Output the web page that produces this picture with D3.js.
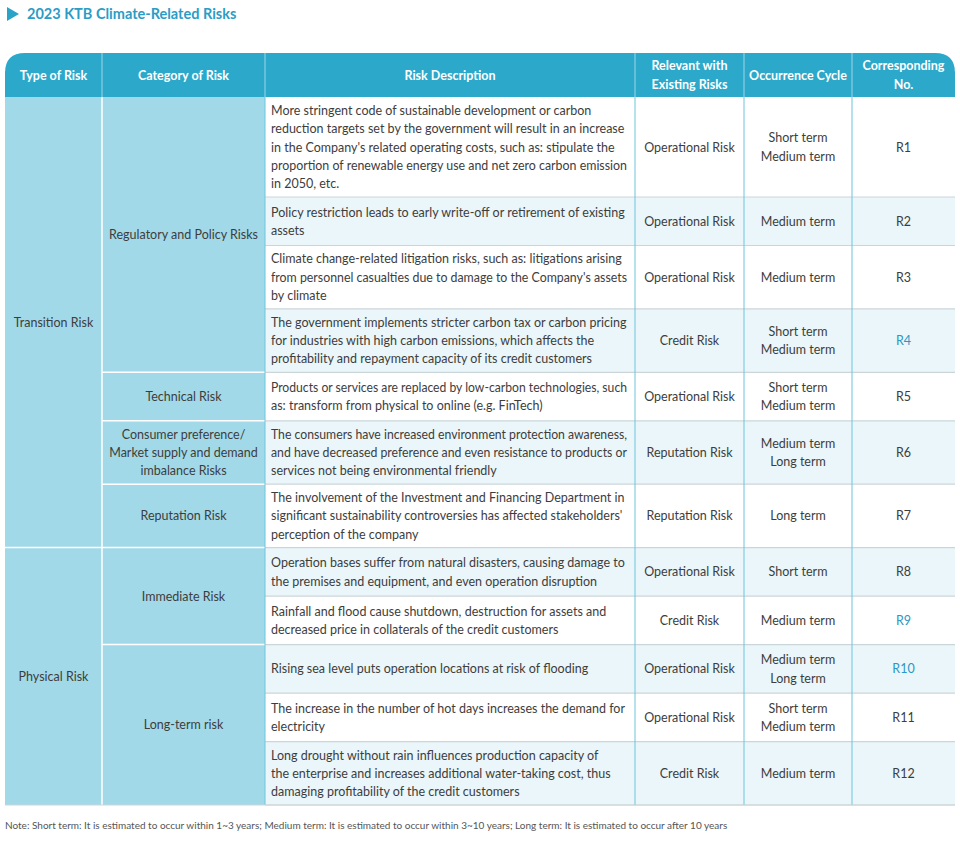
<!DOCTYPE html>
<html>
<head>
<meta charset="utf-8">
<script src="https://cdn.jsdelivr.net/npm/d3@7"></script>
<style>
  body { margin: 0; background: #fff; }
  svg { font-family: Lato, "Noto Sans", sans-serif; }
</style>
</head>
<body>
<svg width="960" height="844"></svg>
<script>
const headers = [["Type of Risk"], ["Category of Risk"], ["Risk Description"],
    ["Relevant with", "Existing Risks"], ["Occurrence Cycle"], ["Corresponding", "No."]]

const riskTypes = [
    {name: "Transition Risk", rows: 7},
    {name: "Physical Risk", rows: 5}
]

const riskCategories = [
    {lines: ["Regulatory and Policy Risks"], rows: 4},
    {lines: ["Technical Risk"], rows: 1},
    {lines: ["Consumer preference/", "Market supply and demand", "imbalance Risks"], rows: 1},
    {lines: ["Reputation Risk"], rows: 1},
    {lines: ["Immediate Risk"], rows: 2},
    {lines: ["Long-term risk"], rows: 3}
]

const descriptions = [
    ["More stringent code of sustainable development or carbon",
     "reduction targets set by the government will result in an increase",
     "in the Company's related operating costs, such as: stipulate the",
     "proportion of renewable energy use and net zero carbon emission",
     "in 2050, etc."],
    ["Policy restriction leads to early write-off or retirement of existing",
     "assets"],
    ["Climate change-related litigation risks, such as: litigations arising",
     "from personnel casualties due to damage to the Company's assets",
     "by climate"],
    ["The government implements stricter carbon tax or carbon pricing",
     "for industries with high carbon emissions, which affects the",
     "profitability and repayment capacity of its credit customers"],
    ["Products or services are replaced by low-carbon technologies, such",
     "as: transform from physical to online (e.g. FinTech)"],
    ["The consumers have increased environment protection awareness,",
     "and have decreased preference and even resistance to products or",
     "services not being environmental friendly"],
    ["The involvement of the Investment and Financing Department in",
     "significant sustainability controversies has affected stakeholders'",
     "perception of the company"],
    ["Operation bases suffer from natural disasters, causing damage to",
     "the premises and equipment, and even operation disruption"],
    ["Rainfall and flood cause shutdown, destruction for assets and",
     "decreased price in collaterals of the credit customers"],
    ["Rising sea level puts operation locations at risk of flooding"],
    ["The increase in the number of hot days increases the demand for",
     "electricity"],
    ["Long drought without rain influences production capacity of",
     "the enterprise and increases additional water-taking cost, thus",
     "damaging profitability of the credit customers"]
]

const existingRisks = ["Operational Risk", "Operational Risk", "Operational Risk", "Credit Risk",
    "Operational Risk", "Reputation Risk", "Reputation Risk", "Operational Risk", "Credit Risk",
    "Operational Risk", "Operational Risk", "Credit Risk"]

const cycles = [["Short term", "Medium term"], ["Medium term"], ["Medium term"], ["Short term", "Medium term"],
    ["Short term", "Medium term"], ["Medium term", "Long term"], ["Long term"], ["Short term"],
    ["Medium term"], ["Medium term", "Long term"], ["Short term", "Medium term"], ["Medium term"]]

const riskNumbers = ["R1", "R2", "R3", "R4", "R5", "R6", "R7", "R8", "R9", "R10", "R11", "R12"]
const linkedNumbers = ["R4", "R9", "R10"]

const title = "2023 KTB Climate-Related Risks"
const note = "Note: Short term: It is estimated to occur within 1~3 years; Medium term: It is estimated to occur within 3~10 years; Long term: It is estimated to occur after 10 years"

// ---- layout ----
const colEdges = [5, 102, 265, 635, 744, 852, 955]
const headerTop = 53, headerBottom = 97
const lineH = 18.3
const textColor = "#3d3d3d"

const svg = d3.select('svg')

// row heights follow the number of text lines in the row
const rowLines = descriptions.map((d, i) => Math.max(d.length, cycles[i].length))
const rowHeights = rowLines.map(n => Math.max(48.5, lineH * n + 8.5))
const rowTops = [headerBottom, ...d3.cumsum(rowHeights).map(v => headerBottom + v)]
const tableBottom = rowTops[rowTops.length - 1]

// multi-line centred text helper
function addLines(g, lines, x, yCenter, anchor, opts = {}) {
    const t = g.append('text')
        .attr('text-anchor', anchor)
        .attr('font-size', opts.size || 12.5)
        .attr('font-weight', opts.weight || 400)
        .attr('fill', opts.fill || textColor)
    const first = yCenter - (lines.length - 1) * lineH / 2 + 4.5
    t.selectAll('tspan')
        .data(lines)
        .enter()
        .append('tspan')
        .attr('x', x)
        .attr('y', (d, i) => first + i * lineH)
        .text(d => d)
    return t
}

// title
svg.append('path')
    .attr('d', 'M7,7 L19,14 L7,21 Z')
    .attr('fill', '#2aa3c9')
svg.append('text')
    .attr('x', 27).attr('y', 19)
    .attr('font-size', 14.5).attr('font-weight', 700)
    .attr('fill', '#2b9cc6')
    .text(title)

// header band with rounded top corners
const r = 20
svg.append('path')
    .attr('d', `M${colEdges[0]},${headerBottom} V${headerTop + r} Q${colEdges[0]},${headerTop} ${colEdges[0] + r},${headerTop}
        H${colEdges[6] - r} Q${colEdges[6]},${headerTop} ${colEdges[6]},${headerTop + r} V${headerBottom} Z`)
    .attr('fill', '#2ba8ca')

const header = svg.append('g')
headers.forEach((h, i) => {
    addLines(header, h, (colEdges[i] + colEdges[i + 1]) / 2, (headerTop + headerBottom) / 2, 'middle',
        {fill: '#fff', weight: 700, size: 12.5})
})
header.selectAll('line')
    .data(colEdges.slice(1, 6))
    .enter()
    .append('line')
    .attr('x1', d => d).attr('x2', d => d)
    .attr('y1', headerTop).attr('y2', headerBottom)
    .attr('stroke', '#9fd6e6').attr('stroke-width', 1)

// body row backgrounds (description side)
const body = svg.append('g')
body.selectAll('rect.row')
    .data(riskNumbers)
    .enter()
    .append('rect')
    .classed('row', true)
    .attr('x', colEdges[2])
    .attr('y', (d, i) => rowTops[i])
    .attr('width', colEdges[6] - colEdges[2])
    .attr('height', (d, i) => rowHeights[i])
    .attr('fill', (d, i) => i % 2 === 0 ? '#ffffff' : '#eaf6f9')

// horizontal grey separators
body.selectAll('line.hsep')
    .data(rowTops.slice(1))
    .enter()
    .append('line')
    .classed('hsep', true)
    .attr('x1', colEdges[2]).attr('x2', colEdges[6])
    .attr('y1', d => d).attr('y2', d => d)
    .attr('stroke', '#cbd6da').attr('stroke-width', 1.2)

// vertical blue separators
body.selectAll('line.vsep')
    .data(colEdges.slice(3, 6))
    .enter()
    .append('line')
    .classed('vsep', true)
    .attr('x1', d => d).attr('x2', d => d)
    .attr('y1', headerBottom).attr('y2', tableBottom)
    .attr('stroke', '#6cc4dd').attr('stroke-width', 1)

// left two columns (type + category)
svg.append('rect')
    .attr('x', colEdges[0]).attr('y', headerBottom)
    .attr('width', colEdges[2] - colEdges[0]).attr('height', tableBottom - headerBottom)
    .attr('fill', '#a2d9e8')

let idx = 0
riskTypes.forEach(t => {
    const y0 = rowTops[idx], y1 = rowTops[idx + t.rows]
    addLines(svg, [t.name], (colEdges[0] + colEdges[1]) / 2, (y0 + y1) / 2, 'middle')
    if (idx > 0) {
        svg.append('line')
            .attr('x1', colEdges[0]).attr('x2', colEdges[1])
            .attr('y1', y0).attr('y2', y0)
            .attr('stroke', '#fff').attr('stroke-width', 1.5)
    }
    idx += t.rows
})

idx = 0
riskCategories.forEach(c => {
    const y0 = rowTops[idx], y1 = rowTops[idx + c.rows]
    addLines(svg, c.lines, (colEdges[1] + colEdges[2]) / 2, (y0 + y1) / 2, 'middle')
    if (idx > 0) {
        svg.append('line')
            .attr('x1', colEdges[1]).attr('x2', colEdges[2])
            .attr('y1', y0).attr('y2', y0)
            .attr('stroke', '#fff').attr('stroke-width', 1.5)
    }
    idx += c.rows
})
svg.append('line')
    .attr('x1', colEdges[1]).attr('x2', colEdges[1])
    .attr('y1', headerBottom).attr('y2', tableBottom)
    .attr('stroke', '#fff').attr('stroke-width', 1.5)
svg.append('line')
    .attr('x1', colEdges[2]).attr('x2', colEdges[2])
    .attr('y1', headerBottom).attr('y2', tableBottom)
    .attr('stroke', '#6cc4dd').attr('stroke-width', 1)

// cell texts
riskNumbers.forEach((num, i) => {
    const yc = (rowTops[i] + rowTops[i + 1]) / 2
    const desc = addLines(body, descriptions[i], colEdges[2] + 6, yc, 'start')
    // squeeze lines that run past the cell
    desc.selectAll('tspan').each(function () {
        const maxW = colEdges[3] - colEdges[2] - 14
        if (this.getComputedTextLength() > maxW) {
            d3.select(this).attr('textLength', maxW).attr('lengthAdjust', 'spacingAndGlyphs')
        }
    })
    addLines(body, [existingRisks[i]], (colEdges[3] + colEdges[4]) / 2, yc, 'middle')
    addLines(body, cycles[i], (colEdges[4] + colEdges[5]) / 2, yc, 'middle')
    addLines(body, [num], (colEdges[5] + colEdges[6]) / 2, yc, 'middle',
        {fill: linkedNumbers.includes(num) ? '#2b97c4' : textColor})
})

// bottom line
svg.append('line')
    .attr('x1', colEdges[0]).attr('x2', colEdges[6])
    .attr('y1', tableBottom).attr('y2', tableBottom)
    .attr('stroke', '#cbd6da').attr('stroke-width', 1.2)

// footnote
svg.append('text')
    .attr('x', 5).attr('y', tableBottom + 24)
    .attr('font-size', 10).attr('fill', '#555')
    .text(note)
</script>
</body>
</html>
